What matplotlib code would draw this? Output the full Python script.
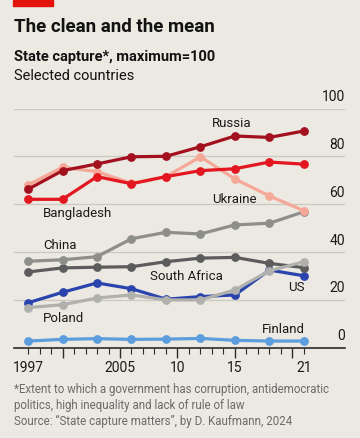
import matplotlib
matplotlib.use("Agg")
import matplotlib.pyplot as plt
from matplotlib.patches import Rectangle
from matplotlib.ticker import FixedLocator

plt.rcParams['font.family'] = ['Roboto', 'DejaVu Sans']

years = [1997, 2000, 2003, 2006, 2009, 2012, 2015, 2018, 2021]

russia = [66.2, 74.0, 76.8, 79.8, 80.0, 84.0, 88.5, 87.9, 90.6]
bangladesh = [62.0, 62.0, 71.5, 68.5, 71.5, 74.0, 74.8, 77.6, 76.7]
ukraine = [68.0, 75.4, 73.6, 68.7, 71.5, 79.8, 70.5, 63.4, 57.2]
china = [36.1, 36.7, 38.0, 45.5, 48.2, 47.5, 51.3, 52.0, 56.8]
south_africa = [31.6, 33.3, 33.6, 33.8, 35.9, 37.4, 37.7, 35.2, 33.4]
us = [18.7, 23.1, 27.0, 24.6, 20.2, 21.3, 22.0, 32.4, 30.0]
poland = [16.7, 17.9, 20.7, 22.0, 19.9, 19.9, 24.1, 32.1, 35.9]
finland = [2.7, 3.4, 3.7, 3.4, 3.5, 3.8, 3.0, 2.7, 2.7]

yticks = [0, 20, 40, 60, 80, 100]
xticks = [1997, 2005, 2010, 2015, 2021]
xticklabels = ['1997', '2005', '10', '15', '21']

BG = '#ebe9e1'
W, H = 360, 438

fig = plt.figure(figsize=(W / 100, H / 100), dpi=100)
fig.patch.set_facecolor(BG)

def fx(px):
    return px / W

def fy(py):
    return 1 - py / H

# axes box in pixels: left 14, right 345, top 108.5 (100), bottom 347.5 (0)
ax = fig.add_axes([fx(14), fy(347.5), fx(345 - 14), (347.5 - 108.5) / H])
ax.set_facecolor(BG)
ax.set_xlim(1995.78, 2024.57)
ax.set_ylim(0, 100)

for s in ['top', 'right', 'left']:
    ax.spines[s].set_visible(False)
ax.spines['bottom'].set_color('#2b2b2b')
ax.spines['bottom'].set_linewidth(1.2)
ax.spines['bottom'].set_zorder(1)

for v in yticks[1:]:
    ax.axhline(v, color='#cbc9c0', lw=0.9, zorder=0)
ax.set_yticks([])
for v in yticks:
    ax.text(1.0, v + 1.8, str(v), transform=ax.get_yaxis_transform(),
            ha='right', va='bottom', fontsize=10, color='#1a1a1a')

# ticks: every year from 1997 to 2021, longer ones every five years
major = [y for y in range(1997, 2022) if y % 5 == 0]
minor = [y for y in range(1997, 2022) if y % 5 != 0]
ax.xaxis.set_major_locator(FixedLocator(major))
ax.xaxis.set_minor_locator(FixedLocator(minor))
ax.set_xticklabels([])
ax.tick_params(axis='x', which='major', length=7, width=1, color='#2b2b2b')
ax.tick_params(axis='x', which='minor', length=4, width=0.8, color='#2b2b2b')
for yr, lab in zip(xticks, xticklabels):
    ax.text(yr, -5.5, lab, ha='center', va='top', fontsize=10, color='#1a1a1a')

series = [
    (finland, '#5b9ddd'),
    (us, '#2a44ae'),
    (south_africa, '#5c5c5c'),
    (poland, '#b0b0ac'),
    (china, '#8e8e8b'),
    (ukraine, '#f5a898'),
    (bangladesh, '#e3171f'),
    (russia, '#a3111f'),
]
for i, (vals, col) in enumerate(series):
    ax.plot(years, vals, color=col, lw=2.3, marker='o', ms=5.3,
            mec=col, mfc=col, zorder=3 + i, clip_on=False, solid_capstyle='round')

lab_kw = dict(fontsize=9.5, color='#1a1a1a', va='center', zorder=20)
ax.text(2013.0, 93.9, 'Russia', ha='left', **lab_kw)
ax.text(2013.0, 62.1, 'Ukraine', ha='left', **lab_kw)
ax.text(1998.3, 55.9, 'Bangladesh', ha='left', **lab_kw)
ax.text(1998.3, 42.5, 'China', ha='left', **lab_kw)
ax.text(2007.6, 29.9, 'South Africa', ha='left', **lab_kw)
ax.text(2021.1, 24.9, 'US', ha='right', **lab_kw)
ax.text(1998.3, 12.3, 'Poland', ha='left', **lab_kw)
ax.text(2021.1, 7.7, 'Finland', ha='right', **lab_kw)

# red tag
fig.patches.append(Rectangle((fx(13), fy(5.5)), fx(40), 5.5 / H,
                             transform=fig.transFigure, color='#e3120b'))

fig.text(fx(14), fy(27), 'The clean and the mean', fontsize=13.5,
         fontweight='bold', va='center', ha='left', color='#121212')
fig.text(fx(14), fy(56.5), 'State capture*, maximum=100', fontsize=10.5,
         fontweight='semibold', va='center', ha='left', color='#121212')
fig.text(fx(14), fy(76), 'Selected countries', fontsize=10.5,
         va='center', ha='left', color='#121212')

foot_kw = dict(fontsize=8.3, va='center', ha='left', color='#6b6b6b')
fig.text(fx(14), fy(390), '*Extent to which a government has corruption, antidemocratic', **foot_kw)
fig.text(fx(14), fy(406), 'politics, high inequality and lack of rule of law', **foot_kw)
fig.text(fx(14), fy(421.7), 'Source: \u201cState capture matters\u201d, by D. Kaufmann, 2024', **foot_kw)

fig.savefig('out.png', dpi=100, facecolor=BG)
